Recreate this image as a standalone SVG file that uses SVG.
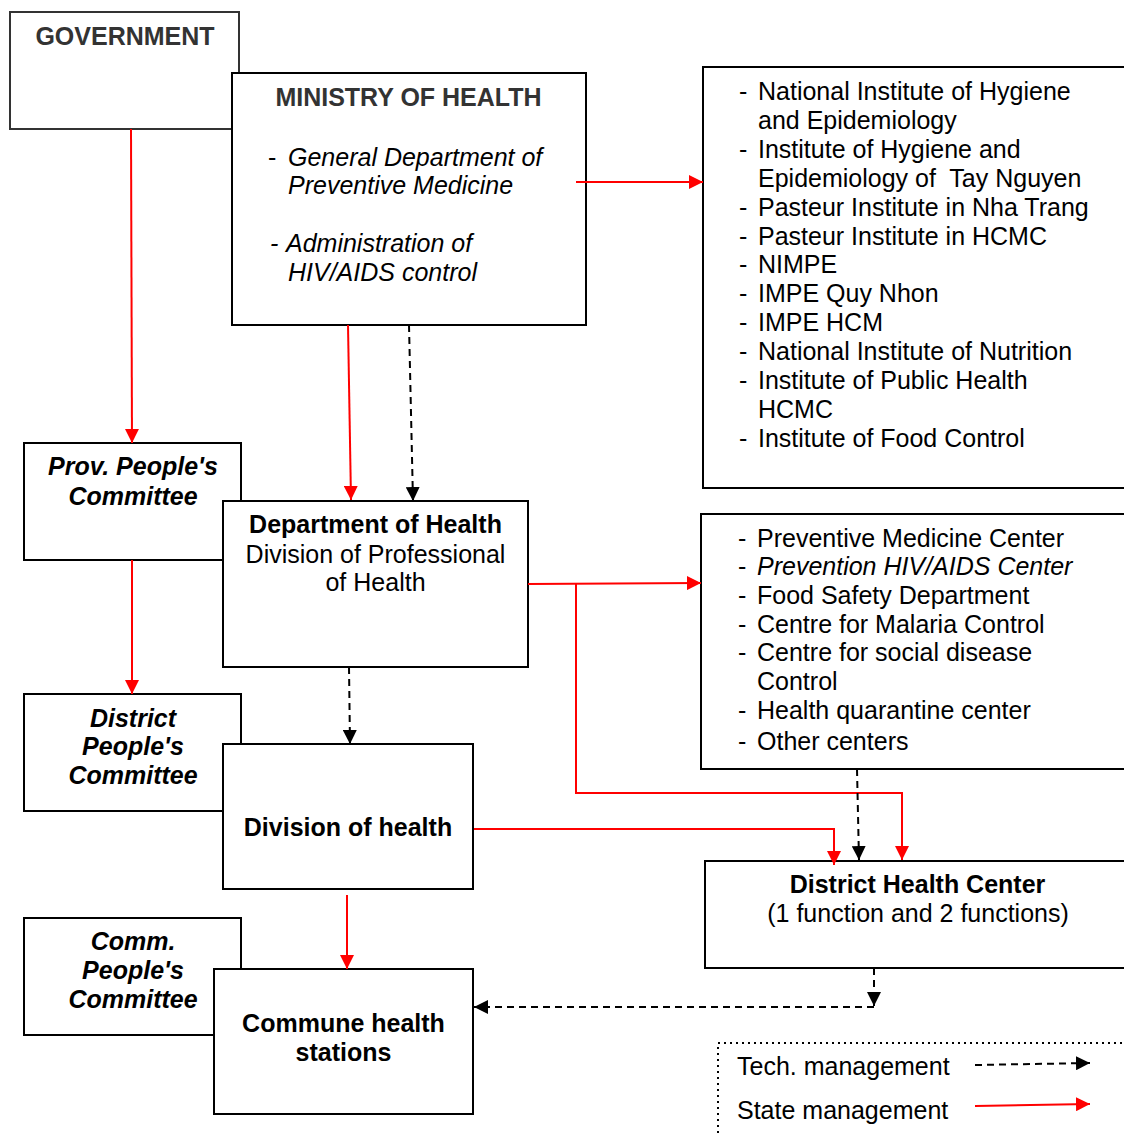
<svg xmlns="http://www.w3.org/2000/svg" width="1124" height="1133" viewBox="0 0 1124 1133">
<style>
text{font-family:"Liberation Sans",Arial,sans-serif;font-size:25px;fill:#000}
.b{font-weight:bold}
.i{font-style:italic}
.g{fill:#333}
.c{text-anchor:middle}
.box{fill:#fff;stroke:#000;stroke-width:2}
.red{stroke:#ff0000;stroke-width:2;fill:none}
.tech{stroke:#000;stroke-width:2;fill:none;stroke-dasharray:7,5}
</style>
<defs>
<marker id="ar" viewBox="0 0 14 14" refX="14" refY="7" markerWidth="14" markerHeight="14" markerUnits="userSpaceOnUse" orient="auto"><path d="M0,0 L14,7 L0,14 z" fill="#ff0000"/></marker>
<marker id="ab" viewBox="0 0 14 14" refX="14" refY="7" markerWidth="14" markerHeight="14" markerUnits="userSpaceOnUse" orient="auto"><path d="M0,0 L14,7 L0,14 z" fill="#000"/></marker>
</defs>
<rect width="1124" height="1133" fill="#fff"/>

<g id="government">
<rect class="box" x="10" y="12" width="229" height="117" style="stroke:#333"/>
<text class="b g c" x="125" y="45">GOVERNMENT</text>
</g>

<g id="ministry">
<rect class="box" x="232" y="73" width="354" height="252"/>
<text class="b g c" x="408.5" y="106">MINISTRY OF HEALTH</text>
<text x="268" y="166">-</text>
<text class="i" x="288" y="166">General Department of</text>
<text class="i" x="288" y="194">Preventive Medicine</text>
<text class="i" x="270" y="252">-</text>
<text class="i" x="286" y="252">Administration of</text>
<text class="i" x="288" y="281">HIV/AIDS control</text>
</g>

<g id="institutes">
<rect class="box" x="703" y="67" width="440" height="421"/>
<g>
<text x="739" y="100">-</text><text x="758" y="100">National Institute of Hygiene</text>
<text x="758" y="129">and Epidemiology</text>
<text x="739" y="158">-</text><text x="758" y="158">Institute of Hygiene and</text>
<text x="758" y="187" xml:space="preserve">Epidemiology of  Tay Nguyen</text>
<text x="739" y="216">-</text><text x="758" y="216">Pasteur Institute in Nha Trang</text>
<text x="739" y="245">-</text><text x="758" y="245">Pasteur Institute in HCMC</text>
<text x="739" y="273">-</text><text x="758" y="273">NIMPE</text>
<text x="739" y="302">-</text><text x="758" y="302">IMPE Quy Nhon</text>
<text x="739" y="331">-</text><text x="758" y="331">IMPE HCM</text>
<text x="739" y="360">-</text><text x="758" y="360">National Institute of Nutrition</text>
<text x="739" y="389">-</text><text x="758" y="389">Institute of Public Health</text>
<text x="758" y="418">HCMC</text>
<text x="739" y="447">-</text><text x="758" y="447">Institute of Food Control</text>
</g>
</g>

<g id="prov-committee">
<rect class="box" x="24" y="443" width="217" height="117"/>
<text class="b i c" x="133" y="475">Prov. People's</text>
<text class="b i c" x="133" y="505">Committee</text>
</g>

<g id="dept-health">
<rect class="box" x="223" y="501" width="305" height="166"/>
<text class="b c" x="375.5" y="533">Department of Health</text>
<text class="c" x="375.5" y="563">Division of Professional</text>
<text class="c" x="375.5" y="591">of Health</text>
</g>

<g id="centers">
<rect class="box" x="701" y="514" width="440" height="255"/>
<text x="738" y="547">-</text><text x="757" y="547">Preventive Medicine Center</text>
<text x="738" y="575">-</text><text class="i" x="757" y="575">Prevention HIV/AIDS Center</text>
<text x="738" y="604">-</text><text x="757" y="604">Food Safety Department</text>
<text x="738" y="633">-</text><text x="757" y="633">Centre for Malaria Control</text>
<text x="738" y="661">-</text><text x="757" y="661">Centre for social disease</text>
<text x="757" y="690">Control</text>
<text x="738" y="719">-</text><text x="757" y="719">Health quarantine center</text>
<text x="738" y="750">-</text><text x="757" y="750">Other centers</text>
</g>

<g id="district-committee">
<rect class="box" x="24" y="694" width="217" height="117"/>
<text class="b i c" x="133" y="727">District</text>
<text class="b i c" x="133" y="755">People's</text>
<text class="b i c" x="133" y="784">Committee</text>
</g>

<g id="division-health">
<rect class="box" x="223" y="744" width="250" height="145"/>
<text class="b c" x="348" y="836">Division of health</text>
</g>

<g id="district-health-center">
<rect class="box" x="705" y="861" width="440" height="107"/>
<text class="b c" x="917.5" y="893">District Health Center</text>
<text class="c" x="918" y="922">(1 function and 2 functions)</text>
</g>

<g id="comm-committee">
<rect class="box" x="24" y="918" width="217" height="117"/>
<text class="b i c" x="133" y="950">Comm.</text>
<text class="b i c" x="133" y="979">People's</text>
<text class="b i c" x="133" y="1008">Committee</text>
</g>

<g id="commune-stations">
<rect class="box" x="214" y="969" width="259" height="145"/>
<text class="b c" x="343.5" y="1032">Commune health</text>
<text class="b c" x="343.5" y="1061">stations</text>
</g>

<g id="connectors">
<line class="red" x1="131" y1="129" x2="132" y2="443" marker-end="url(#ar)"/>
<line class="red" x1="576" y1="182" x2="703" y2="182" marker-end="url(#ar)"/>
<line class="red" x1="348" y1="325" x2="351" y2="500" marker-end="url(#ar)"/>
<line class="tech" x1="409" y1="325" x2="413" y2="501" marker-end="url(#ab)"/>
<line class="red" x1="132" y1="560" x2="132" y2="694" marker-end="url(#ar)"/>
<line class="tech" x1="349" y1="667" x2="350" y2="744" marker-end="url(#ab)"/>
<line class="red" x1="528" y1="584" x2="701" y2="583" marker-end="url(#ar)"/>
<polyline class="red" points="576,584 576,793 902,793 902,860" marker-end="url(#ar)"/>
<polyline class="red" points="474,829 834,829 834,865" marker-end="url(#ar)"/>
<line class="tech" x1="857" y1="769" x2="859" y2="860" marker-end="url(#ab)"/>
<line class="red" x1="347" y1="895" x2="347" y2="969" marker-end="url(#ar)"/>
<line class="tech" x1="874" y1="968" x2="874" y2="1006" marker-end="url(#ab)"/>
<line class="tech" x1="874" y1="1007" x2="474" y2="1007" marker-end="url(#ab)"/>
</g>

<g id="legend">
<polyline points="718,1133 718,1043 1124,1043" fill="none" stroke="#000" stroke-width="2" stroke-dasharray="2,4"/>
<text x="737" y="1075">Tech. management</text>
<text x="737" y="1119">State management</text>
<line class="tech" x1="975" y1="1065" x2="1090" y2="1063" marker-end="url(#ab)"/>
<line class="red" x1="975" y1="1106" x2="1090" y2="1104" marker-end="url(#ar)"/>
</g>
</svg>
